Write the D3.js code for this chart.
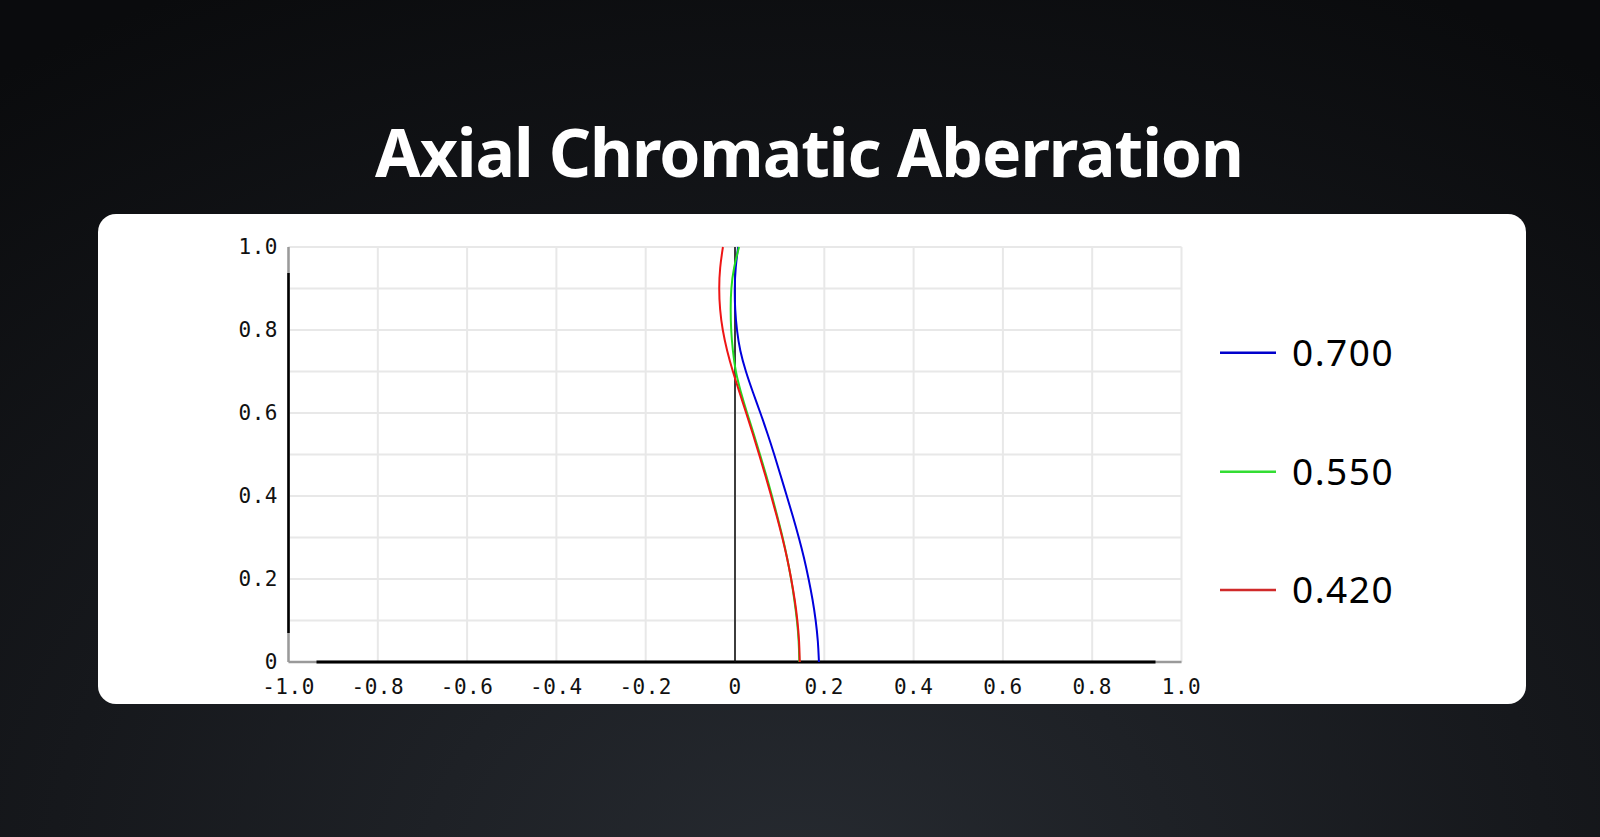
<!DOCTYPE html>
<html>
<head>
<meta charset="utf-8">
<script src="https://cdn.jsdelivr.net/npm/d3@7"></script>
<style>
  html, body { margin: 0; padding: 0; background: #0c0d0f; overflow: hidden; }
</style>
</head>
<body>
<div id="chart"></div>
<script>
// chart data
const titleText = "Axial Chromatic Aberration";
const fieldHeights = [0, 0.05, 0.1, 0.15, 0.2, 0.25, 0.3, 0.35, 0.4, 0.45, 0.5,
  0.55, 0.6, 0.65, 0.7, 0.75, 0.8, 0.85, 0.9, 0.95, 1.0];
const wavelengths = ["0.700", "0.550", "0.420"];
const focus700 = [0.188, 0.186, 0.181, 0.174, 0.165, 0.155, 0.143, 0.130, 0.116, 0.102, 0.088,
  0.073, 0.057, 0.040, 0.024, 0.011, 0.004, 0.000, -0.001, 0.001, 0.007];
const focus550 = [0.144, 0.143, 0.139, 0.133, 0.126, 0.117, 0.107, 0.095, 0.083, 0.070, 0.056,
  0.042, 0.027, 0.013, 0.001, -0.005, -0.009, -0.010, -0.009, -0.003, 0.009];
const focus420 = [0.145, 0.144, 0.140, 0.134, 0.126, 0.117, 0.106, 0.094, 0.081, 0.068, 0.054,
  0.040, 0.025, 0.010, -0.005, -0.018, -0.028, -0.034, -0.036, -0.034, -0.027];
const xTicks = [-1.0, -0.8, -0.6, -0.4, -0.2, 0, 0.2, 0.4, 0.6, 0.8, 1.0];
const yTicks = [0, 0.2, 0.4, 0.6, 0.8, 1.0];
const yGrid = [0, 0.1, 0.2, 0.3, 0.4, 0.5, 0.6, 0.7, 0.8, 0.9, 1.0];

// layout
const width = 1600;
const height = 837;
const card = { x: 98, y: 214, w: 1428, h: 490, r: 18 };
const plot = { left: 288.5, right: 1181.5, top: 247, bottom: 662 };
const colors = { "0.700": "#0000dd", "0.550": "#22dd22", "0.420": "#ee1515" };
const legendColors = { "0.700": "#0000cc", "0.550": "#33dd33", "0.420": "#d02a2a" };
const grid = { color: "#e8e8e8", width: 2 };
const monoFont = "'DejaVu Sans Mono', monospace";

const svg = d3.select("#chart")
  .append("svg")
  .attr("width", width)
  .attr("height", height);

// background glow
const defs = svg.append("defs");
const bg = defs.append("radialGradient")
  .attr("id", "bg")
  .attr("cx", "50%").attr("cy", "105%")
  .attr("r", "85%")
  .attr("gradientTransform", "translate(0.5 1.05) scale(1 1.4) translate(-0.5 -1.05)");
bg.append("stop").attr("offset", "0%").attr("stop-color", "#262a30");
bg.append("stop").attr("offset", "55%").attr("stop-color", "#16181c");
bg.append("stop").attr("offset", "100%").attr("stop-color", "#0a0b0d");

svg.append("rect")
  .attr("width", width)
  .attr("height", height)
  .attr("fill", "url(#bg)");

// title, stretched with letter spacing to the reference width
const title = svg.append("text")
  .attr("x", 809.5)
  .attr("y", 177)
  .attr("text-anchor", "middle")
  .attr("fill", "#ffffff")
  .attr("font-family", "'Noto Sans', Inter, sans-serif")
  .attr("font-weight", 700)
  .attr("font-size", 66)
  .text(titleText);
const titleWidth = title.node().getComputedTextLength();
const spacing = (869 - titleWidth) / (titleText.length - 1);
title.attr("letter-spacing", spacing).attr("x", 809.5 + spacing / 2);

// white card
svg.append("rect")
  .attr("x", card.x)
  .attr("y", card.y)
  .attr("width", card.w)
  .attr("height", card.h)
  .attr("rx", card.r)
  .attr("fill", "#ffffff");

const xScale = d3.scaleLinear().domain([-1, 1]).range([plot.left, plot.right]);
const yScale = d3.scaleLinear().domain([0, 1]).range([plot.bottom, plot.top]);

// grid
const gridG = svg.append("g");
gridG.selectAll(".hgrid")
  .data(yGrid)
  .enter()
  .append("line")
  .attr("class", "hgrid")
  .attr("x1", plot.left)
  .attr("x2", plot.right)
  .attr("y1", function(d) { return yScale(d); })
  .attr("y2", function(d) { return yScale(d); })
  .attr("stroke", grid.color)
  .attr("stroke-width", grid.width);
gridG.selectAll(".vgrid")
  .data(xTicks)
  .enter()
  .append("line")
  .attr("class", "vgrid")
  .attr("x1", function(d) { return xScale(d); })
  .attr("x2", function(d) { return xScale(d); })
  .attr("y1", plot.top)
  .attr("y2", plot.bottom)
  .attr("stroke", grid.color)
  .attr("stroke-width", grid.width);

// axes: gray stubs at the ends, black in between
const axisG = svg.append("g");
const stub = 26;
axisG.append("line")
  .attr("x1", plot.left).attr("x2", plot.left)
  .attr("y1", plot.top).attr("y2", plot.bottom)
  .attr("stroke", "#9a9a9a").attr("stroke-width", 2.5);
axisG.append("line")
  .attr("x1", plot.left).attr("x2", plot.left)
  .attr("y1", plot.top + stub).attr("y2", plot.bottom - stub - 3)
  .attr("stroke", "#000").attr("stroke-width", 2.5);
axisG.append("line")
  .attr("x1", plot.left).attr("x2", plot.right)
  .attr("y1", plot.bottom).attr("y2", plot.bottom)
  .attr("stroke", "#9a9a9a").attr("stroke-width", 2.5);
axisG.append("line")
  .attr("x1", plot.left + stub + 2).attr("x2", plot.right - stub)
  .attr("y1", plot.bottom).attr("y2", plot.bottom)
  .attr("stroke", "#000").attr("stroke-width", 3);

// focus zero line
axisG.append("line")
  .attr("x1", xScale(0)).attr("x2", xScale(0))
  .attr("y1", plot.top).attr("y2", plot.bottom)
  .attr("stroke", "#111").attr("stroke-width", 1.6);

// tick labels
function tickText(d) {
  if (d === 0) return "0";
  return d.toFixed(1);
}
svg.append("g").selectAll("text")
  .data(xTicks)
  .enter()
  .append("text")
  .attr("x", function(d) { return xScale(d); })
  .attr("y", 694)
  .attr("text-anchor", "middle")
  .attr("font-family", monoFont)
  .attr("font-size", 21)
  .attr("letter-spacing", 0.5)
  .attr("fill", "#111")
  .text(tickText);
svg.append("g").selectAll("text")
  .data(yTicks)
  .enter()
  .append("text")
  .attr("x", 278)
  .attr("y", function(d) { return yScale(d) + 7; })
  .attr("text-anchor", "end")
  .attr("font-family", monoFont)
  .attr("font-size", 21)
  .attr("letter-spacing", 0.5)
  .attr("fill", "#111")
  .text(tickText);

// curves
const series = [
  { name: "0.700", values: focus700 },
  { name: "0.550", values: focus550 },
  { name: "0.420", values: focus420 }
];
const line = d3.line()
  .x(function(d) { return xScale(d[0]); })
  .y(function(d) { return yScale(d[1]); })
  .curve(d3.curveBasis);

svg.append("g").selectAll("path")
  .data(series)
  .enter()
  .append("path")
  .attr("d", function(s) {
    return line(s.values.map(function(v, i) { return [v, fieldHeights[i]]; }));
  })
  .attr("fill", "none")
  .attr("stroke", function(s) { return colors[s.name]; })
  .attr("stroke-width", 2);

// legend
const legendY = [352.7, 471.7, 590];
const legend = svg.append("g").selectAll("g")
  .data(wavelengths)
  .enter()
  .append("g");
legend.append("line")
  .attr("x1", 1220).attr("x2", 1276)
  .attr("y1", function(d, i) { return legendY[i]; })
  .attr("y2", function(d, i) { return legendY[i]; })
  .attr("stroke", function(d) { return legendColors[d]; })
  .attr("stroke-width", 2.5);
legend.append("text")
  .attr("x", 1292)
  .attr("y", function(d, i) { return legendY[i] + 13; })
  .attr("font-family", "'Noto Sans', Roboto, sans-serif")
  .attr("font-size", 37)
  .attr("letter-spacing", 1.5)
  .attr("fill", "#000")
  .text(function(d) { return d; });
</script>
</body>
</html>
